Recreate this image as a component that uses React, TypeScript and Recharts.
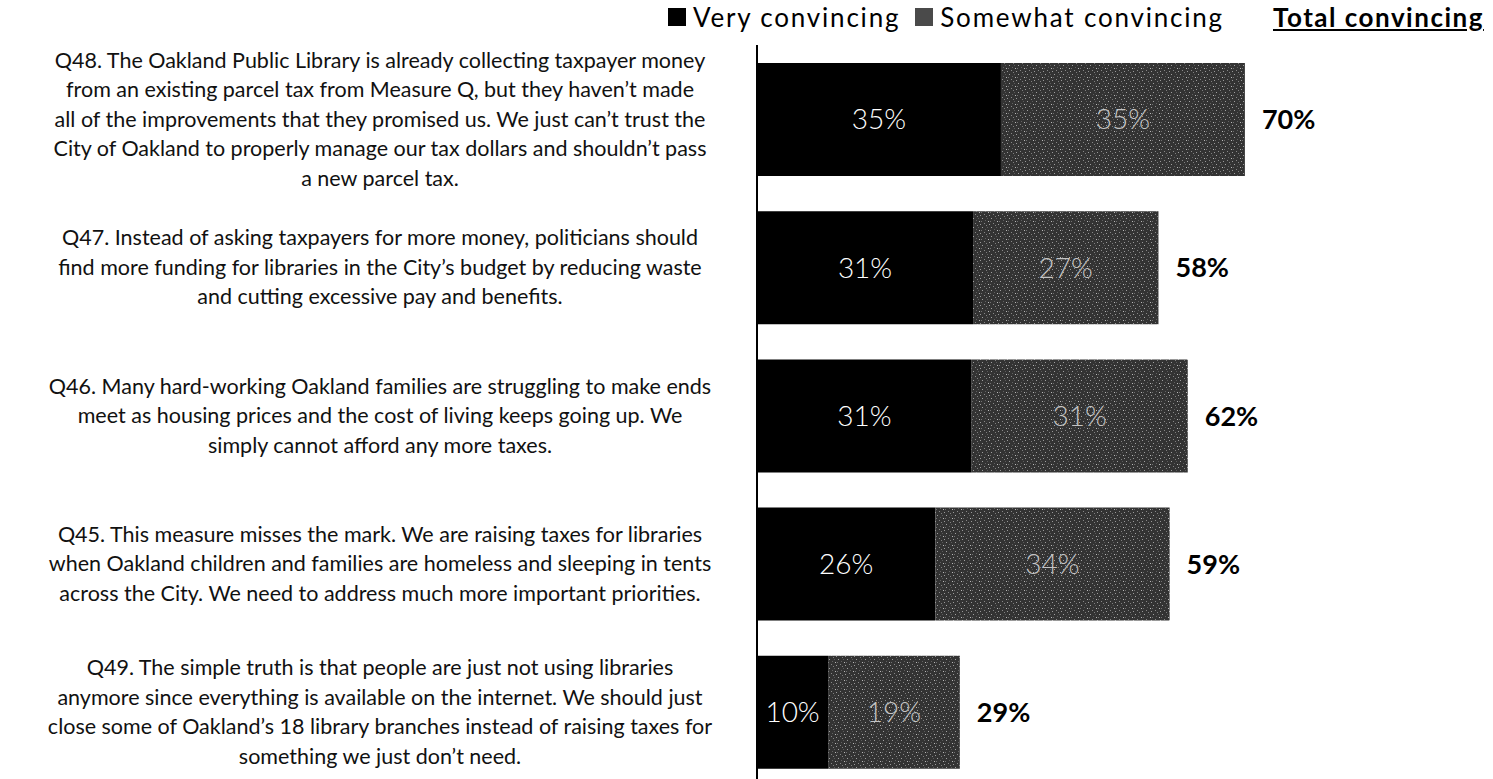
import React from "react";
import { BarChart, Bar, XAxis, YAxis, LabelList } from "recharts";

const questions = ["Q48", "Q47", "Q46", "Q45", "Q49"];

const questionLines = [
  [
    "Q48. The Oakland Public Library is already collecting taxpayer money",
    "from an existing parcel tax from Measure Q, but they haven\u2019t made",
    "all of the improvements that they promised us. We just can\u2019t trust the",
    "City of Oakland to properly manage our tax dollars and shouldn\u2019t pass",
    "a new parcel tax.",
  ],
  [
    "Q47. Instead of asking taxpayers for more money, politicians should",
    "find more funding for libraries in the City\u2019s budget by reducing waste",
    "and cutting excessive pay and benefits.",
  ],
  [
    "Q46. Many hard-working Oakland families are struggling to make ends",
    "meet as housing prices and the cost of living keeps going up.  We",
    "simply cannot afford any more taxes.",
  ],
  [
    "Q45. This measure misses the mark. We are raising taxes for libraries",
    "when Oakland children and families are homeless and sleeping in tents",
    "across the City. We need to address much more important priorities.",
  ],
  [
    "Q49. The simple truth is that people are just not using libraries",
    "anymore since everything is available on the internet. We should just",
    "close some of Oakland\u2019s 18 library branches instead of raising taxes for",
    "something we just don\u2019t need.",
  ],
];

const veryConvincing = [35, 31, 30.8, 25.6, 10.2];
const somewhatConvincing = [35, 26.6, 31, 33.6, 18.9];

const data = questions.map((q, i) => ({
  q,
  very: veryConvincing[i],
  somewhat: somewhatConvincing[i],
  total: veryConvincing[i] + somewhatConvincing[i],
}));

const FONT = "Lato, 'Liberation Sans', sans-serif";

function QuestionTick(props: any) {
  const { y, payload } = props;
  const idx = questions.indexOf(payload.value);
  const lines = questionLines[idx] || [];
  const lh = 29.5;
  const start = y - ((lines.length - 1) * lh) / 2;
  return (
    <text
      x={380}
      y={start}
      textAnchor="middle"
      fontFamily={FONT}
      fontSize={21.5}
      fill="#111"
    >
      {lines.map((l, i) => (
        <tspan key={i} x={380} y={start + i * lh} dy="0.35em">
          {l}
        </tspan>
      ))}
    </text>
  );
}

function TotalLabel(props: any) {
  const { x, y, width, height, index } = props;
  return (
    <text
      x={x + width + 17}
      y={y + height / 2}
      dy="0.36em"
      fontFamily={FONT}
      fontWeight={700}
      fontSize={27}
      fill="#000"
    >
      {Math.round(data[index].total)}%
    </text>
  );
}

const pct = (v: any) => `${Math.round(Number(v))}%`;

const square = (bg: string): React.CSSProperties => ({
  display: "inline-block",
  width: 18,
  height: 18,
  background: bg,
  marginRight: 7,
});

export default function App() {
  return (
    <div
      style={{
        position: "absolute",
        left: 0,
        top: 0,
        width: 1493,
        height: 800,
        background: "#fff",
        fontFamily: FONT,
      }}
    >
      <div
        style={{
          position: "absolute",
          top: 1,
          left: 668,
          display: "flex",
          alignItems: "center",
          fontSize: 26,
          letterSpacing: 1.8,
          color: "#000",
          whiteSpace: "nowrap",
        }}
      >
        <span style={square("#000")} />
        <span>Very convincing</span>
        <span style={{ ...square("#4a4a4a"), marginLeft: 15 }} />
        <span>Somewhat convincing</span>
      </div>
      <div
        style={{
          position: "absolute",
          top: 1,
          left: 1273,
          fontSize: 26,
          fontWeight: 700,
          letterSpacing: 1.5,
          textDecoration: "underline",
          whiteSpace: "nowrap",
        }}
      >
        Total convincing
      </div>
      <BarChart
        width={1493}
        height={800}
        data={data}
        layout="vertical"
        margin={{ top: 45, right: 39, bottom: 14, left: 0 }}
        barSize={113}
      >
        <defs>
          <pattern id="speckle" width="9" height="9" patternUnits="userSpaceOnUse">
            <rect width="9" height="9" fill="#333" />
            <rect x="1" y="2" width="1" height="1" fill="#a0a0a0" />
            <rect x="5" y="0" width="1" height="1" fill="#808080" />
            <rect x="7" y="5" width="1" height="1" fill="#b8b8b8" />
            <rect x="3" y="7" width="1" height="1" fill="#888" />
            <rect x="0" y="5" width="1" height="1" fill="#707070" />
            <rect x="4" y="4" width="1" height="1" fill="#606060" />
            <rect x="8" y="8" width="1" height="1" fill="#999" />
            <rect x="6" y="2" width="1" height="1" fill="#5a5a5a" />
          </pattern>
        </defs>
        <XAxis type="number" domain={[0, 100]} hide />
        <YAxis
          type="category"
          dataKey="q"
          width={757}
          axisLine={{ stroke: "#000", strokeWidth: 2 }}
          tickLine={false}
          tick={<QuestionTick />}
          interval={0}
        />
        <Bar dataKey="very" stackId="a" fill="#000" isAnimationActive={false}>
          <LabelList
            dataKey="very"
            position="center"
            formatter={pct}
            fill="#fff"
            fontSize={28}
            fontWeight={300}
            fontFamily={FONT}
          />
        </Bar>
        <Bar dataKey="somewhat" stackId="a" fill="url(#speckle)" isAnimationActive={false}>
          <LabelList
            dataKey="somewhat"
            position="center"
            formatter={pct}
            fill="#c4c4c4"
            fontSize={28}
            fontWeight={300}
            fontFamily={FONT}
          />
          <LabelList dataKey="total" content={<TotalLabel />} />
        </Bar>
      </BarChart>
    </div>
  );
}
